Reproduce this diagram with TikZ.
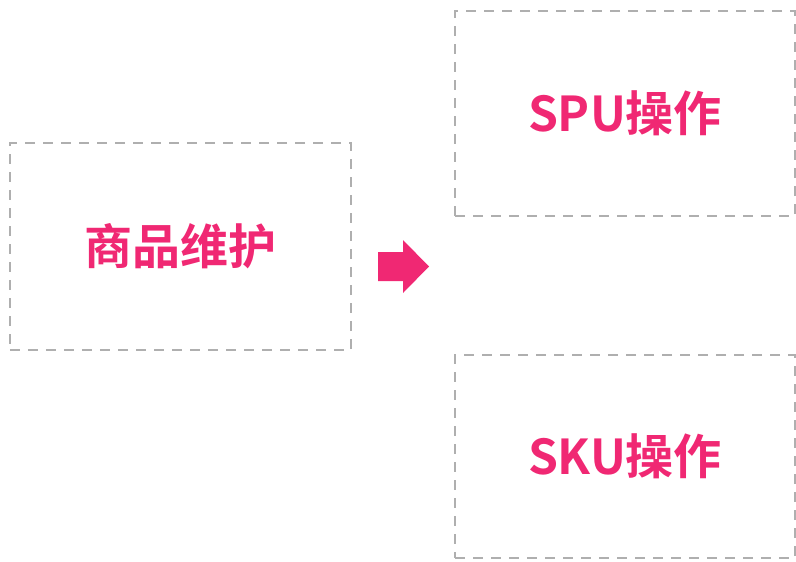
\documentclass[tikz,border=0pt]{standalone}
\usepackage{fontspec}
\usepackage{xcolor}
\newfontfamily\cjkbold{Noto Sans CJK SC}[BoldFont={Noto Sans CJK SC Bold}]
\definecolor{rosepink}{RGB}{240,40,115}
\definecolor{dashgray}{RGB}{175,175,175}

\begin{document}
\begin{tikzpicture}[x=0.03cm, y=-0.03cm,
    box/.style={rectangle, draw=dashgray, line width=0.06cm, dash pattern=on 0.3cm off 0.24cm,
                inner sep=0pt, text=rosepink, font=\cjkbold\bfseries\fontsize{41}{48}\selectfont}]
            \useasboundingbox (0,0) rectangle (796,561);
            % Nodes
            \node[box, minimum width=10.23cm, minimum height=6.21cm] (maint) at (180.5,246.5) {商品维护};
            \node[box, minimum width=10.2cm, minimum height=6.15cm] (spu) at (625,113.5) {SPU操作};
            \node[box, minimum width=10.2cm, minimum height=6.09cm] (sku) at (625,456.5) {SKU操作};

            % Arrow
            \fill[rosepink] (378,252) -- (403,252) -- (403,240) -- (429,266.5)
                -- (403,293) -- (403,281) -- (378,281) -- cycle;
        \end{tikzpicture}
\end{document}
